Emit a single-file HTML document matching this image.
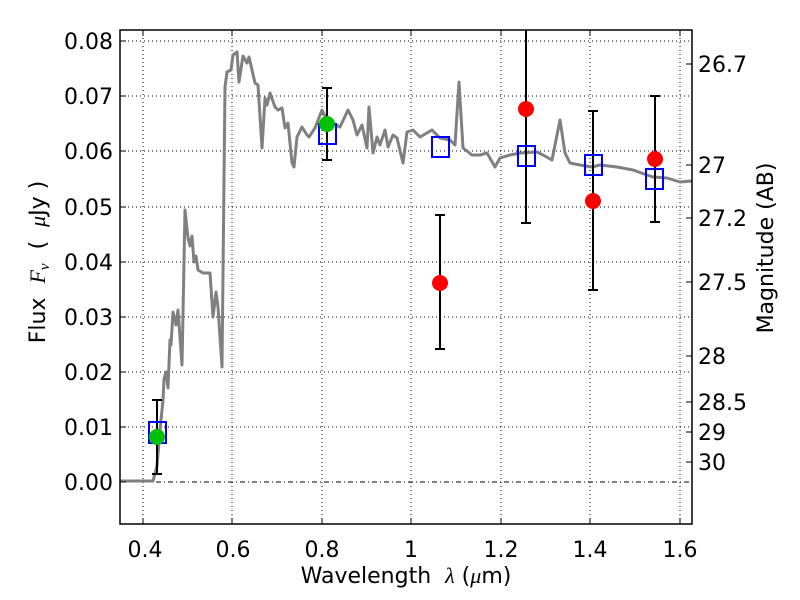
<!DOCTYPE html>
<html><head><meta charset="utf-8"><style>
html,body{margin:0;padding:0;background:#fff;}
svg{display:block;font-family:"DejaVu Sans","Liberation Sans",sans-serif;}
</style></head><body>
<svg width="800" height="600" viewBox="0 0 800 600" xmlns="http://www.w3.org/2000/svg">
<rect width="800" height="600" fill="#fff"/>
<g stroke="#000" stroke-width="1" stroke-dasharray="1,3">
<line x1="143" y1="30" x2="143" y2="524"/>
<line x1="232" y1="30" x2="232" y2="524"/>
<line x1="322" y1="30" x2="322" y2="524"/>
<line x1="411" y1="30" x2="411" y2="524"/>
<line x1="501" y1="30" x2="501" y2="524"/>
<line x1="590" y1="30" x2="590" y2="524"/>
<line x1="680" y1="30" x2="680" y2="524"/>
<line x1="120" y1="41" x2="692" y2="41"/>
<line x1="120" y1="96" x2="692" y2="96"/>
<line x1="120" y1="151" x2="692" y2="151"/>
<line x1="120" y1="207" x2="692" y2="207"/>
<line x1="120" y1="262" x2="692" y2="262"/>
<line x1="120" y1="317" x2="692" y2="317"/>
<line x1="120" y1="372" x2="692" y2="372"/>
<line x1="120" y1="427" x2="692" y2="427"/>
</g>
<line x1="120" y1="482" x2="692" y2="482" stroke="#000" stroke-width="1" stroke-dasharray="5,3,1,3"/>
<polyline fill="none" stroke="#808080" stroke-width="3" stroke-linejoin="round" points="120,481 153,481 157,466 160,430 163,400 164,379 166,372 168,388 170,340 171,345 173,312 176,325 178,310 182,365 185,210 188,238 190,246 192,236 194,262 196,256 198,270 203,273 210,273 213,317 216,292 218,307 222,367 225,87 227,72 231,70 233,55 237,52 239,82 243,56 247,63 249,57 252,70 255,83 258,85 262,148 265,98 267,105 270,93 275,107 278,110 282,108 285,128 288,123 292,163 294,167 297,137 302,127 307,135 309,137 315,128 322,110 327,120 340,127 348,110 353,120 357,135 362,125 367,148 369,107 373,153 377,137 380,145 385,130 388,147 393,135 397,138 403,163 407,132 413,130 420,137 432,130 440,138 450,140 455,145 459,82 463,148 472,155 480,155 487,153 495,167 500,158 510,155 520,153 537,152 543,155 552,160 560,120 565,153 570,163 580,165 592,167 600,165 617,167 633,170 647,175 653,177 667,178 680,182 692,181"/>
<g stroke="#000" stroke-width="2">
<line x1="157" y1="400" x2="157" y2="474"/><line x1="152" y1="400" x2="162" y2="400"/><line x1="152" y1="474" x2="162" y2="474"/>
<line x1="327" y1="88" x2="327" y2="160"/><line x1="322" y1="88" x2="332" y2="88"/><line x1="322" y1="160" x2="332" y2="160"/>
<line x1="440" y1="215" x2="440" y2="349"/><line x1="435" y1="215" x2="445" y2="215"/><line x1="435" y1="349" x2="445" y2="349"/>
<line x1="526" y1="30" x2="526" y2="223"/><line x1="521" y1="223" x2="531" y2="223"/>
<line x1="593" y1="111" x2="593" y2="290"/><line x1="588" y1="111" x2="598" y2="111"/><line x1="588" y1="290" x2="598" y2="290"/>
<line x1="655" y1="96" x2="655" y2="222"/><line x1="650" y1="96" x2="660" y2="96"/><line x1="650" y1="222" x2="660" y2="222"/>
</g>
<g fill="none" stroke="#0000ff" stroke-width="2">
<rect x="149" y="422" width="17" height="21"/>
<rect x="319" y="124" width="17" height="20"/>
<rect x="432" y="137" width="17" height="20"/>
<rect x="518" y="146" width="17" height="20"/>
<rect x="585" y="155" width="17" height="20"/>
<rect x="646" y="169" width="17" height="20"/>
</g>
<g fill="#00c000"><circle cx="157" cy="437" r="8"/><circle cx="327" cy="124" r="8"/></g>
<g fill="#ff0000"><circle cx="440" cy="283" r="8"/><circle cx="526" cy="109" r="8"/><circle cx="593" cy="201" r="8"/><circle cx="655" cy="159" r="8"/></g>
<rect x="120" y="30" width="572" height="494" fill="none" stroke="#000" stroke-width="1.5"/>
<g stroke="#000" stroke-width="1">
<line x1="143" y1="524" x2="143" y2="518"/><line x1="232" y1="524" x2="232" y2="518"/><line x1="322" y1="524" x2="322" y2="518"/><line x1="411" y1="524" x2="411" y2="518"/><line x1="501" y1="524" x2="501" y2="518"/><line x1="590" y1="524" x2="590" y2="518"/><line x1="680" y1="524" x2="680" y2="518"/>
<line x1="143" y1="30" x2="143" y2="36"/><line x1="232" y1="30" x2="232" y2="36"/><line x1="322" y1="30" x2="322" y2="36"/><line x1="411" y1="30" x2="411" y2="36"/><line x1="501" y1="30" x2="501" y2="36"/><line x1="590" y1="30" x2="590" y2="36"/><line x1="680" y1="30" x2="680" y2="36"/>
<line x1="120" y1="41" x2="126" y2="41"/><line x1="120" y1="96" x2="126" y2="96"/><line x1="120" y1="151" x2="126" y2="151"/><line x1="120" y1="207" x2="126" y2="207"/><line x1="120" y1="262" x2="126" y2="262"/><line x1="120" y1="317" x2="126" y2="317"/><line x1="120" y1="372" x2="126" y2="372"/><line x1="120" y1="427" x2="126" y2="427"/><line x1="120" y1="482" x2="126" y2="482"/>
<line x1="692" y1="64" x2="686" y2="64"/><line x1="692" y1="165" x2="686" y2="165"/><line x1="692" y1="218" x2="686" y2="218"/><line x1="692" y1="282" x2="686" y2="282"/><line x1="692" y1="356" x2="686" y2="356"/><line x1="692" y1="402" x2="686" y2="402"/><line x1="692" y1="432" x2="686" y2="432"/><line x1="692" y1="462" x2="686" y2="462"/>
</g>
<g font-size="22" text-anchor="end" fill="#000">
<text x="113" y="49">0.08</text><text x="113" y="104">0.07</text><text x="113" y="159">0.06</text><text x="113" y="215">0.05</text><text x="113" y="270">0.04</text><text x="113" y="325">0.03</text><text x="113" y="380">0.02</text><text x="113" y="435">0.01</text><text x="113" y="490">0.00</text>
</g>
<g font-size="22" text-anchor="middle" fill="#000">
<text x="145" y="557">0.4</text><text x="233" y="557">0.6</text><text x="322" y="557">0.8</text><text x="411" y="557">1</text><text x="501" y="557">1.2</text><text x="590" y="557">1.4</text><text x="680" y="557">1.6</text>
</g>
<g font-size="22" fill="#000">
<text x="698" y="72">26.7</text><text x="698" y="173">27</text><text x="698" y="226">27.2</text><text x="698" y="290">27.5</text><text x="698" y="364">28</text><text x="698" y="410">28.5</text><text x="698" y="440">29</text><text x="698" y="470">30</text>
</g>
<text x="406" y="583" font-size="22" text-anchor="middle" xml:space="preserve">Wavelength  <tspan font-style="italic" font-family="Liberation Serif,serif">λ</tspan> (<tspan font-style="italic" font-family="Liberation Serif,serif">μ</tspan>m)</text>
<text transform="translate(45,262) rotate(-90)" font-size="22" text-anchor="middle" xml:space="preserve">Flux  <tspan font-style="italic" font-family="Liberation Serif,serif">F<tspan font-size="15" dy="4">ν</tspan></tspan><tspan dy="-4">  (  </tspan><tspan font-style="italic" font-family="Liberation Serif,serif">μ</tspan>Jy )</text>
<text transform="translate(773,248) rotate(-90)" font-size="22" text-anchor="middle">Magnitude (AB)</text>
</svg>
</body></html>
